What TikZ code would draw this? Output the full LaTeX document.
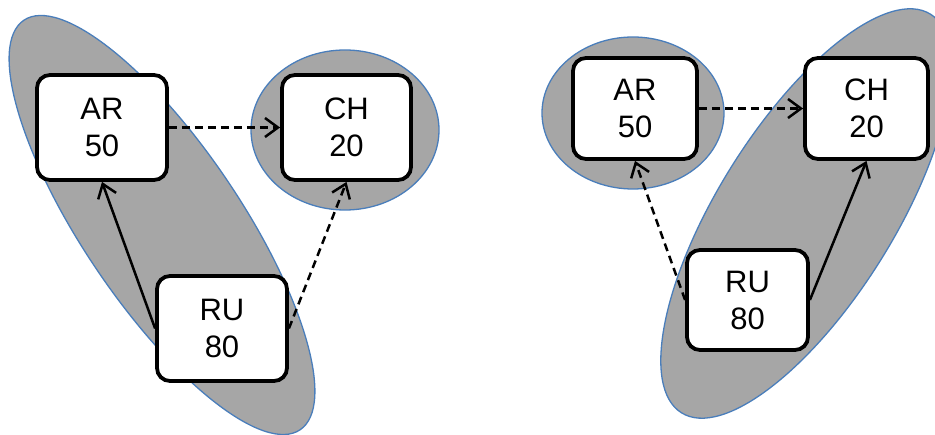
\documentclass[tikz,border=0pt]{standalone}
\usepackage{fontspec}
\setmainfont{Liberation Sans}
\usetikzlibrary{arrows.meta}
\definecolor{blobfill}{HTML}{A6A6A6}
\definecolor{blobedge}{HTML}{4A7EBB}
\tikzset{
  blob/.style={fill=blobfill, draw=blobedge, line width=1.3pt},
  cbox/.style={draw=black, fill=white, line width=3.8pt, rounded corners=13pt,
    inner sep=0pt, align=center, font=\fontsize{31}{37}\selectfont},
  link/.style={line width=2.5pt, -{Straight Barb[length=13pt,width=19pt]}},
  dlink/.style={link, dash pattern=on 8pt off 5pt},
}
\begin{document}
\begin{tikzpicture}[x=1pt,y=-1pt]
\clip (0,0) rectangle (935,435);
% left group
\filldraw[blob, rotate around={-56:(162,225)}] (162,225) ellipse [x radius=247, y radius=79];
\filldraw[blob] (345,130) ellipse [x radius=94, y radius=80];
\node[cbox, minimum width=130pt, minimum height=105pt] (ar1) at (102,127.5) {AR\\50};
\node[cbox, minimum width=129pt, minimum height=105pt] (ch1) at (346.5,127.5) {CH\\20};
\node[cbox, minimum width=130pt, minimum height=105pt] (ru1) at (222,328.5) {RU\\80};
\draw[dlink] (ar1.east) -- (ch1.west);
\draw[link] (ru1.west) -- (ar1.south);
\draw[dlink] (ru1.east) -- (ch1.south);
% right group
\filldraw[blob, rotate around={58:(806,213.5)}] (806,213.5) ellipse [x radius=235, y radius=88];
\filldraw[blob] (633,113) ellipse [x radius=91, y radius=76];
\node[cbox, minimum width=124pt, minimum height=101pt] (ar2) at (635,108.5) {AR\\50};
\node[cbox, minimum width=123pt, minimum height=101pt] (ch2) at (866.5,108.5) {CH\\20};
\node[cbox, minimum width=121pt, minimum height=100pt] (ru2) at (747.5,300) {RU\\80};
\draw[dlink] (ar2.east) -- (ch2.west);
\draw[dlink] (ru2.west) -- (ar2.south);
\draw[link] (ru2.east) -- (ch2.south);
\end{tikzpicture}
\end{document}
